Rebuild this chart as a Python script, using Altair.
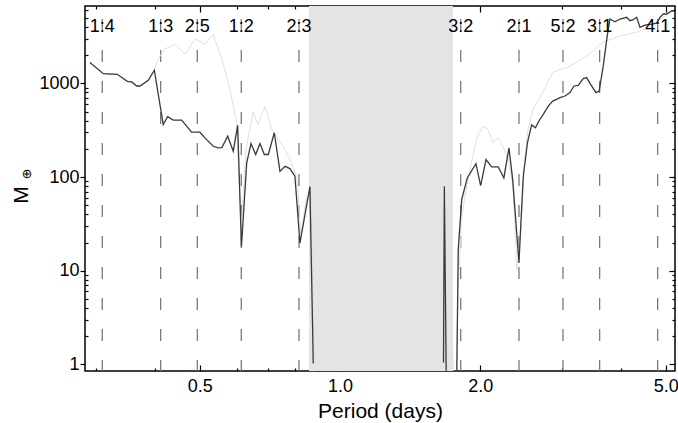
import altair as alt
import pandas as pd

# ---------------- data ----------------
dark_period_a = [0.2907, 0.3105, 0.3327, 0.3497, 0.3573, 0.3663, 0.3723, 0.3879, 0.3996,
                 0.4176, 0.4268, 0.4388, 0.4574, 0.4804, 0.5005, 0.5131, 0.5346, 0.548, 0.558,
                 0.5742, 0.5902, 0.6032, 0.6146, 0.6308, 0.6442, 0.6594, 0.6735, 0.6881, 0.7018,
                 0.7229, 0.7435, 0.7621, 0.781, 0.8005, 0.8206, 0.8621, 0.8764]
dark_mass_a = [1670, 1270, 1250, 1053, 1035, 938, 938, 1080, 1381,
               364, 441, 405, 405, 301, 301, 262, 213, 205, 206,
               273, 189, 356, 18.1, 141.6, 228, 174, 228, 174, 174,
               297, 115, 130, 123, 102, 19.7, 78.9, 1.02]
dark_period_b = [1.668, 1.675, 1.692, 1.78, 1.794, 1.825, 1.876, 1.958, 2.004, 2.058, 2.116, 2.186,
                 2.248, 2.305, 2.348, 2.422, 2.443, 2.474, 2.526, 2.578, 2.627, 2.673, 2.731, 2.799,
                 2.861, 2.917, 2.966, 3.04, 3.116, 3.178, 3.246, 3.327, 3.383, 3.451, 3.542, 3.6,
                 3.673, 3.746, 3.796, 3.891, 3.989, 4.124, 4.192, 4.261, 4.333, 4.404, 4.514, 4.666,
                 4.782, 4.861, 4.941, 5.024, 5.151, 5.236]
dark_mass_b = [1.05, 79.5, 0.5, 0.6, 16.7, 57.3, 97.8, 139, 80.9, 153.7, 128.3, 128.3,
               97.8, 205, 93.8, 12.1, 29.6, 101.7, 233.8, 360, 336, 397, 466.6, 572.5,
               647.6, 675, 704, 733, 797, 938, 954, 1126, 1154, 977, 797, 829,
               1537, 3221, 4864, 4550, 4864, 5072, 4667, 4781, 5072, 3963, 4195, 4299,
               4406, 5072, 5503, 5503, 5970, 5823]

faint_period_a = [0.2907, 0.3105, 0.3327, 0.3497, 0.3573, 0.3663, 0.3723, 0.3879, 0.3996,
                  0.4069, 0.4211, 0.4424, 0.4649, 0.4886, 0.5133, 0.534, 0.558, 0.5807, 0.601,
                  0.6135, 0.6286, 0.6506, 0.6669, 0.6903, 0.7146, 0.7546, 0.781, 0.8087, 0.8248,
                  0.8454, 0.8665, 0.884]
faint_mass_a = [1670, 1270, 1250, 1053, 1035, 938, 938, 1080, 1381,
                1812, 2319, 2624, 2051, 2969, 2624, 3359, 1812, 865, 364,
                27.3, 197, 490, 364, 568, 322, 212, 154, 98.5, 24.1,
                57.3, 73.3, 1.02]
faint_period_b = [1.684, 1.688, 1.722, 1.752, 1.775, 1.792, 1.827, 1.873, 1.92, 1.968,
                  2.027, 2.078, 2.13, 2.183, 2.238, 2.294, 2.351, 2.398, 2.446, 2.482,
                  2.532, 2.595, 2.687, 2.865, 3.116, 3.389, 3.673, 3.989, 4.339, 4.626,
                  4.861, 5.165]
faint_mass_b = [1.05, 48.2, 37.6, 0.6, 0.6, 6.2, 39.5, 82.9, 153.7, 264,
                347, 322, 234, 264, 212, 154, 79, 10.2, 27.3, 120,
                322, 527, 710, 1315, 1525, 1952, 2757, 3199, 3532, 3991,
                4864, 5781]

res_period = [0.309, 0.4123, 0.4942, 0.6141, 0.8167, 1.816, 2.422, 3.01, 3.608, 4.806]
res_label = ["1:4", "1:3", "2:5", "1:2", "2:3", "3:2", "2:1", "5:2", "3:1", "4:1"]

band_start = [0.858]
band_end = [1.747]

x_major = [0.5, 1.0, 2.0, 5.0]
x_minor = [0.3, 0.4, 0.6, 0.7, 0.8, 0.9, 3.0, 4.0]
y_major = [1, 10, 100, 1000]
y_minor = [2, 3, 4, 5, 6, 7, 8, 9, 20, 30, 40, 50, 60, 70, 80, 90,
           200, 300, 400, 500, 600, 700, 800, 900, 2000, 3000, 4000, 5000, 6000]

x_title = "Period (days)"
y_title = ["M"]
y_title_sub = ["⊕"]

# ---------------- tables ----------------
def seg_table(p_a, m_a, p_b, m_b):
    return pd.DataFrame({
        "period": p_a + p_b,
        "mass": m_a + m_b,
        "seg": ["a"] * len(p_a) + ["b"] * len(p_b),
    })

dark_df = seg_table(dark_period_a, dark_mass_a, dark_period_b, dark_mass_b)
faint_df = seg_table(faint_period_a, faint_mass_a, faint_period_b, faint_mass_b)
res_df = pd.DataFrame({"period": res_period, "label": res_label})
band_df = pd.DataFrame({"start": band_start, "end": band_end})

W, H = 590, 365
FONT = "Liberation Sans"
xs = alt.Scale(type="log", domain=[0.2837, 5.236], nice=False)
ys = alt.Scale(type="log", domain=[0.85, 6700], nice=False)


def tick_axis(orient, values, size, offset):
    return alt.Axis(orient=orient, values=values, tickSize=size, offset=offset,
                    labels=False, domain=False, grid=False, title=None,
                    tickColor="black", tickWidth=1.2)


band = alt.Chart(band_df).mark_rect(color="#e4e4e4").encode(
    x=alt.X("start:Q", scale=xs, axis=None),
    x2="end:Q",
)

rules = alt.Chart(res_df).mark_rule(
    color="#7a7a7a", strokeWidth=1.3, strokeDash=[12, 19], strokeDashOffset=18
).encode(x=alt.X("period:Q", scale=xs, axis=None))

labels = alt.Chart(res_df).mark_text(
    font=FONT, fontSize=18, color="black", baseline="middle", align="center"
).encode(x=alt.X("period:Q", scale=xs, axis=None), y=alt.value(21), text="label:N")

faint = alt.Chart(faint_df).mark_line(color="#e0e0e0", strokeWidth=1.0, clip=True).encode(
    x=alt.X("period:Q", scale=xs, axis=None),
    y=alt.Y("mass:Q", scale=ys, axis=None),
    detail="seg:N",
)

dark = alt.Chart(dark_df).mark_line(color="#3a3a3a", strokeWidth=1.3, clip=True).encode(
    x=alt.X("period:Q", scale=xs, axis=None),
    y=alt.Y("mass:Q", scale=ys, axis=None),
    detail="seg:N",
)


def carrier(xaxis, yaxis):
    return alt.Chart(dark_df).mark_point(opacity=0).encode(
        x=alt.X("period:Q", scale=xs, axis=xaxis),
        y=alt.Y("mass:Q", scale=ys, axis=yaxis),
    )

ax_main_x = alt.Axis(orient="bottom", values=x_major, format=".1f", tickSize=0,
                     labelPadding=6, labelFontSize=18, labelFont=FONT, labelColor="black",
                     domain=False, grid=False, title=x_title, titleFontSize=21,
                     titleFont=FONT, titleFontWeight="normal", titleColor="black",
                     titlePadding=5)
ax_main_y = alt.Axis(orient="left", values=y_major, format=".0f", tickSize=5,
                     tickColor="black", tickWidth=1.2, labelPadding=1,
                     labelFontSize=18, labelFont=FONT, labelColor="black",
                     domain=False, grid=False, title=None)

c1 = carrier(ax_main_x, ax_main_y)
c2 = carrier(tick_axis("top", x_major, 6, -H), tick_axis("right", y_minor, 3, -W))
c3 = carrier(tick_axis("top", x_minor, 3, -H), tick_axis("left", y_major, 6, -W))
c4 = carrier(tick_axis("bottom", x_major, 6, -H), tick_axis("left", y_minor, 3, -W))
c5 = carrier(tick_axis("bottom", x_minor, 3, -H), None)

ytitle = alt.Chart(pd.DataFrame({"t": y_title})).mark_text(
    font=FONT, fontSize=21, color="black", angle=270, baseline="middle", align="center"
).encode(x=alt.value(-63), y=alt.value(189), text="t:N")
ytitle_sub = alt.Chart(pd.DataFrame({"t": y_title_sub})).mark_text(
    font="DejaVu Sans", fontSize=13, color="black", angle=270, baseline="middle", align="center"
).encode(x=alt.value(-58), y=alt.value(168), text="t:N")

chart = alt.layer(
    band, rules, faint, dark, labels, c1, c2, c3, c4, c5, ytitle, ytitle_sub
).resolve_scale(x="shared", y="shared").resolve_axis(
    x="independent", y="independent"
).properties(
    width=W, height=H,
    autosize=alt.AutoSizeParams(type="none"),
    padding={"left": 85, "top": 6, "right": 3, "bottom": 52},
).configure_view(stroke="black", strokeWidth=1.5)

chart.save("out.html", embed_options={"renderer": "svg", "actions": False})
